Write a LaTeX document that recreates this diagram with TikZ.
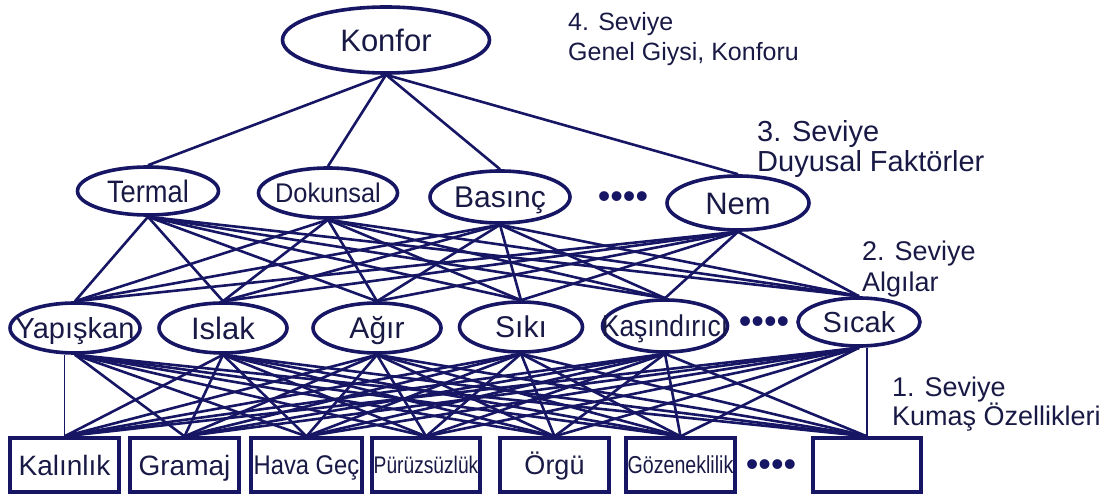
\documentclass[tikz,border=0pt]{standalone}
\usepackage{fontspec}
\setmainfont{Liberation Sans}
\newfontfamily\narrowa[FakeStretch=0.8]{Liberation Sans}
\newfontfamily\narrowb[FakeStretch=0.88]{Liberation Sans}
\newfontfamily\narrowc[FakeStretch=0.94]{Liberation Sans}
\usetikzlibrary{shapes.geometric}
\definecolor{navy}{RGB}{22,22,100}
\definecolor{txt}{RGB}{25,25,70}
\begin{document}
\begin{tikzpicture}[x=1pt,y=-1pt,
 fs/.code={\pgfmathsetmacro\capht{0.72*#1}\pgfkeysalso{/tikz/font=\fontsize{#1}{#1}\selectfont, /tikz/text height=\capht pt, /tikz/text depth=0pt}},
 oval/.style={ellipse, draw=navy, line width=3.6pt, inner xsep=-30pt, inner ysep=0pt, text=txt},
 box/.style={rectangle, draw=navy, line width=3.3pt, inner sep=0pt, minimum height=54pt, text=txt},
 link/.style={draw=navy, line width=2.6pt},
 thinlink/.style={draw=navy, line width=1.2pt},
 lbl/.style={anchor=west, inner sep=0pt, text=txt},
 dotrow/.style={text=navy, inner sep=0pt, font=\fontsize{36}{36}\selectfont}]
\useasboundingbox (0,0) rectangle (1103,494);

% level 4
\node[oval, minimum width=207pt, minimum height=66pt, fs=31] (konfor) at (386,40) {Konfor};
% level 3
\node[oval, minimum width=141pt, minimum height=48pt, fs=31] (termal) at (148,191) {\narrowb Termal};
\node[oval, minimum width=139pt, minimum height=50pt, fs=27] (dokunsal) at (328,193) {\narrowc Dokunsal};
\node[oval, minimum width=140pt, minimum height=52pt, fs=30] (basinc) at (500,197) {Basınç};
\node[dotrow] (dots3) at (623,200) {••••};
\node[oval, minimum width=142pt, minimum height=54pt, fs=31] (nem) at (738,203) {Nem};
% level 2
\node[oval, minimum width=130pt, minimum height=50pt, fs=29] (yap) at (75,328) {Yapışkan};
\node[oval, minimum width=128pt, minimum height=50pt, fs=31] (islak) at (223,328) {Islak};
\node[oval, minimum width=128pt, minimum height=50pt, fs=30] (agir) at (377,328) {Ağır};
\node[oval, minimum width=123pt, minimum height=50pt, fs=30] (siki) at (521,327) {Sıkı};
\node[oval, minimum width=125pt, minimum height=52pt, fs=30] (kas) at (665,326) {\narrowb Kaşındırıcı};
\node[dotrow] (dots2) at (764,325) {••••};
\node[oval, minimum width=122pt, minimum height=48pt, fs=29] (sic) at (859,322) {Sıcak};
% level 1
\node[box, minimum width=109pt, fs=28] (kal) at (64.5,465) {Kalınlık};
\node[box, minimum width=109pt, fs=28] (gra) at (184.5,465) {Gramaj};
\node[box, minimum width=111pt, fs=27] (hava) at (306.5,465) {\narrowb Hava Geç};
\node[box, minimum width=108pt, fs=24] (pur) at (426,465) {\narrowa Pürüzsüzlük};
\node[box, minimum width=109pt, fs=27] (org) at (554.5,465) {Örgü};
\node[box, minimum width=109pt, fs=24.5] (goz) at (680.5,465) {\narrowa Gözeneklilik};
\node[dotrow] (dots1) at (771,468) {••••};
\node[box, minimum width=108pt] (emp) at (867,465) {};

% level labels
\node[lbl, fs=25] (l4a) at (568,22) {4. Seviye};
\node[lbl, fs=25] (l4b) at (568,52) {Genel Giysi, Konforu};
\node[lbl, fs=29] (l3a) at (757,131) {3. Seviye};
\node[lbl, fs=29] (l3b) at (757,161) {Duyusal Faktörler};
\node[lbl, fs=27] (l2a) at (862,251) {2. Seviye};
\node[lbl, fs=27] (l2b) at (862,282) {Algılar};
\node[lbl, fs=27] (l1a) at (892,387) {1. Seviye};
\node[lbl, fs=27] (l1b) at (892,416) {Kumaş Özellikleri};

% connectors level 4 -> 3
\foreach \b in {termal,dokunsal,basinc,nem}
  \draw[link] (konfor.south) -- (\b.north);
% level 3 -> 2
\foreach \a in {termal,dokunsal,basinc,nem}
  \foreach \b in {yap,islak,agir,siki,kas,sic}
    \draw[link] (\a.south) -- (\b.north);
% level 2 -> 1
\foreach \b in {gra,hava,pur,org,goz,emp}
  \draw[link] (yap.south) -- (\b.north);
\foreach \a in {islak,agir,siki,kas}
  \foreach \b in {kal,gra,hava,pur,org,goz,emp}
    \draw[link] (\a.south) -- (\b.north);
\foreach \b in {kal,gra,hava,pur,org,goz}
  \draw[link] (sic.south) -- (\b.north);
\draw[thinlink] (kal.north) -- (kal.north |- yap.south);
\draw[link] (emp.north) -- (emp.north |- sic.south);
\end{tikzpicture}
\end{document}
